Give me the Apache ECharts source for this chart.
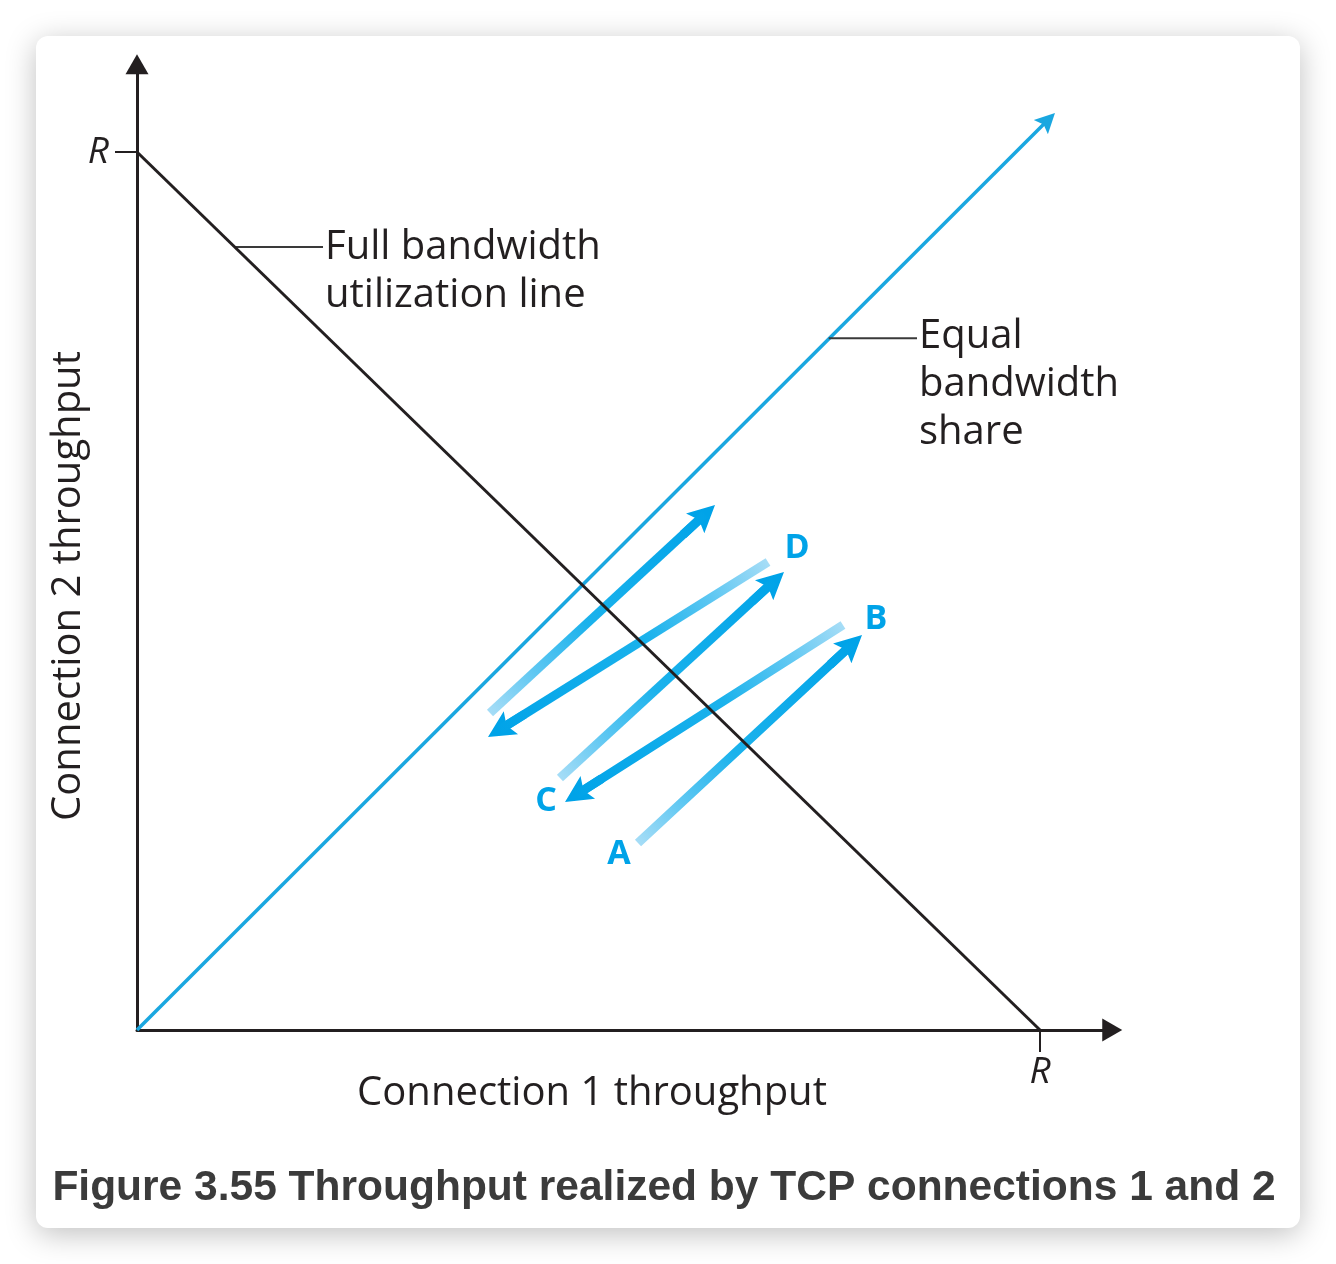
<!DOCTYPE html>
<html>
<head>
<meta charset="utf-8">
<script src="https://cdn.jsdelivr.net/npm/echarts@6/dist/echarts.min.js"></script>
<style>
html, body { margin: 0; padding: 0; background: #ffffff; width: 1336px; height: 1264px; overflow: hidden; }
#card { position: absolute; left: 36px; top: 36px; width: 1264px; height: 1192px; background: #ffffff;
        border-radius: 12px; box-shadow: 0 6px 30px rgba(0,0,0,0.25); }
#chart { position: absolute; left: 0; top: 0; width: 1336px; height: 1264px; }
</style>
</head>
<body>
<div id="card"></div>
<div id="chart"></div>
<script>
// ---------- data (units of R) ----------
const axisMaxX = 1.08;
const axisMaxY = 1.1;
const tickValues = [1];
const tickLabel = 'R';
const fullUtilLine = [[0, 1], [1, 0]];
const equalShareStart = [0, 0];
const equalShareTip = [1.0166, 1.0444];
const fullLeader = [[0.1082, 0.8918], [0.2060, 0.8918]];
const equalLeader = [[0.7660, 0.7880], [0.8638, 0.7880]];
const arrowStarts = [[0.5548, 0.2130], [0.7818, 0.4613], [0.4684, 0.2870], [0.6988, 0.5330], [0.3909, 0.3610]];
const arrowTips   = [[0.8029, 0.4499], [0.4740, 0.2597], [0.7165, 0.5216], [0.3887, 0.3337], [0.6401, 0.5979]];
const pointNames = ['A', 'B', 'C', 'D'];
const pointPos = [[0.5338, 0.2005], [0.8184, 0.4681], [0.4529, 0.2608], [0.7309, 0.5490]];
const fullLineLabel = 'Full bandwidth\nutilization line';
const equalLineLabel = 'Equal\nbandwidth\nshare';
const xName = 'Connection 1 throughput';
const yName = 'Connection 2 throughput';
const caption = 'Figure 3.55 Throughput realized by TCP connections 1 and 2';

// ---------- style ----------
const INK = '#231f20';
const BLUE = '#1aa7e0';
const ARROW = '#00a3e8';
const FONT = '"Open Sans", "Noto Sans", sans-serif';
const HEAD_PATH = 'path://M12,0 L24,26 L12,21 L0,26 Z';
const PXX = 903, PXY = 878, LEFT = 137, BOTTOM_Y = 1030;

const chart = echarts.init(document.getElementById('chart'), null, { renderer: 'canvas', width: 1336, height: 1264 });

function axisCommon(margin) {
  return {
    type: 'value', min: 0,
    splitLine: { show: false },
    axisLine: { show: true, onZero: false, symbol: ['none', 'triangle'], symbolSize: [23, 20],
                lineStyle: { color: INK, width: 3 } },
    axisTick: { show: true, customValues: tickValues, length: 22, lineStyle: { color: INK, width: 2 } },
    axisLabel: { show: true, customValues: tickValues, formatter: function () { return tickLabel; },
                 margin: margin, fontSize: 37, fontStyle: 'italic', fontFamily: FONT, color: INK }
  };
}

function buildOption(series) {
  const xAxis = axisCommon(24); xAxis.max = axisMaxX;
  const yAxis = axisCommon(28); yAxis.max = axisMaxY;
  return {
    animation: false,
    backgroundColor: 'transparent',
    grid: { left: LEFT, right: 1336 - LEFT - axisMaxX * PXX, top: BOTTOM_Y - axisMaxY * PXY, bottom: 1264 - BOTTOM_Y,
            containLabel: false, outerBoundsMode: 'none' },
    xAxis: xAxis,
    yAxis: yAxis,
    graphic: [
      { type: 'text', x: 325, y: 224, z: 100, style: { text: fullLineLabel, font: '40px ' + FONT, fill: INK, lineHeight: 48, align: 'left', verticalAlign: 'top' } },
      { type: 'text', x: 919, y: 313, z: 100, style: { text: equalLineLabel, font: '40px ' + FONT, fill: INK, lineHeight: 48, align: 'left', verticalAlign: 'top' } },
      { type: 'text', x: 592, y: 1094, z: 100, style: { text: xName, font: '40px ' + FONT, fill: INK, align: 'center', verticalAlign: 'middle' } },
      { type: 'text', x: 69, y: 586, rotation: Math.PI / 2, z: 100, style: { text: yName, font: '40px ' + FONT, fill: INK, align: 'center', verticalAlign: 'middle' } },
      { type: 'text', x: 664, y: 1188, z: 100, style: { text: caption, font: 'bold 42.5px "Liberation Sans", Arial, sans-serif', fill: '#3b3b3b', align: 'center', verticalAlign: 'middle' } }
    ],
    series: series
  };
}

function staticSeries() {
  return [
    { type: 'line', data: fullLeader, showSymbol: false, symbol: 'none', silent: true, z: 4,
      lineStyle: { color: '#3a3a3a', width: 2 } },
    { type: 'line', data: equalLeader, showSymbol: false, symbol: 'none', silent: true, z: 4,
      lineStyle: { color: '#3a3a3a', width: 2 } },
    { type: 'line', data: fullUtilLine, showSymbol: false, symbol: 'none', silent: true, z: 5,
      lineStyle: { color: INK, width: 3 } },
    { type: 'scatter', silent: true, z: 6, symbolSize: 1, itemStyle: { color: 'rgba(0,0,0,0)' },
      data: pointPos.map(function (p, i) { return { name: pointNames[i], value: p }; }),
      label: { show: true, position: 'inside', formatter: '{b}', fontSize: 34, fontWeight: 'bold',
               fontFamily: FONT, color: ARROW, opacity: 1 } }
  ];
}

chart.setOption(buildOption(staticSeries()));

function toPx(p) { return chart.convertToPixel({ gridIndex: 0 }, p); }
function toData(p) { return chart.convertFromPixel({ gridIndex: 0 }, p); }
function backOff(start, tip, d) {
  const a = toPx(start), b = toPx(tip);
  const dx = b[0] - a[0], dy = b[1] - a[1], L = Math.hypot(dx, dy);
  return { pt: toData([b[0] - dx / L * d, b[1] - dy / L * d]), dx: dx, dy: dy };
}

const HEAD = 27, EQ_HEAD = 20;
const dynSeries = [];
// equal bandwidth share line
const eq = backOff(equalShareStart, equalShareTip, EQ_HEAD / 2);
dynSeries.push({ type: 'lines', coordinateSystem: 'cartesian2d', silent: true, z: 2,
  data: [{ coords: [equalShareStart, eq.pt] }],
  symbol: ['none', HEAD_PATH], symbolSize: EQ_HEAD,
  lineStyle: { color: BLUE, width: 3.5, opacity: 1, curveness: 0 } });

const stops = [
  { offset: 0, color: '#addff7' },
  { offset: 0.22, color: '#5ec7f2' },
  { offset: 0.45, color: '#1bb2ec' },
  { offset: 1, color: ARROW }
];
const heads = [];
arrowStarts.forEach(function (s, i) {
  const t = arrowTips[i];
  const c = backOff(s, t, HEAD / 2);
  const h = backOff(s, t, HEAD / 2 + 30);
  const grad = new echarts.graphic.LinearGradient(
    c.dx > 0 ? 0 : 1, c.dy > 0 ? 0 : 1, c.dx > 0 ? 1 : 0, c.dy > 0 ? 1 : 0, stops);
  dynSeries.push({ type: 'line', data: [s, c.pt], showSymbol: false, symbol: 'none', silent: true, z: 3,
    lineStyle: { width: 9, color: grad, cap: 'butt' } });
  heads.push({ coords: [h.pt, c.pt] });
});
dynSeries.push({ type: 'lines', coordinateSystem: 'cartesian2d', silent: true, z: 3,
  data: heads, symbol: ['none', HEAD_PATH], symbolSize: HEAD,
  lineStyle: { color: ARROW, width: 9, opacity: 1, curveness: 0 } });

chart.setOption(buildOption(dynSeries.concat(staticSeries())), true);
</script>
</body>
</html>
